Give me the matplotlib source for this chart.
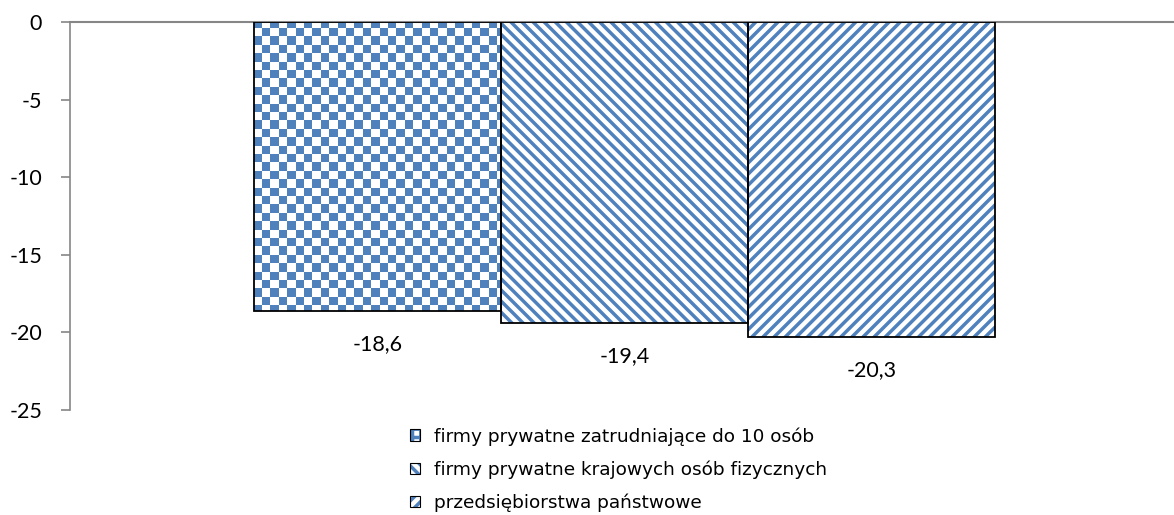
import numpy as np
import matplotlib
matplotlib.use("Agg")
import matplotlib.pyplot as plt
from matplotlib.patches import Patch
from matplotlib.colors import ListedColormap

categories = ["firmy prywatne zatrudniające do 10 osób",
              "firmy prywatne krajowych osób fizycznych",
              "przedsiębiorstwa państwowe"]
values = [-18.6, -19.4, -20.3]
value_labels = ["-18,6", "-19,4", "-20,3"]
yticks = [0, -5, -10, -15, -20, -25]
hatches = [None, "\\\\\\", "///"]

BLUE = "#4F81BD"
GRAY = "#868686"
plt.rcParams["hatch.linewidth"] = 2.5

fig = plt.figure(figsize=(11.74, 5.15), dpi=100)
ax = fig.add_axes([70/1174, 1-410/515, 1-70/1174, (410-22)/515])
ax.set_xlim(-0.5, 0.5)
ax.set_ylim(-25, 0)

w = 0.2237
xs = [(i - 1) * w + 0.0023 for i in range(3)]

bars = []
for x, v, h in zip(xs, values, hatches):
    if h is not None:
        ax.bar(x, v, width=w, color="white", edgecolor=BLUE, linewidth=0, hatch=h, zorder=2)
    b = ax.bar(x, v, width=w, color="none", edgecolor="black", linewidth=1.3, zorder=3)[0]
    bars.append(b)

# checkerboard fill for the first bar, drawn pixel-aligned and clipped to the bar
fig.canvas.draw()
cmap = ListedColormap(["white", BLUE])
inv = ax.transData.inverted()
b = bars[0]
x0, y0 = b.get_x(), b.get_y()
bw, bh = b.get_width(), b.get_height()
p1 = ax.transData.transform((x0, min(y0, y0 + bh)))
p2 = ax.transData.transform((x0 + bw, max(y0, y0 + bh)))
px0 = np.floor(p1[0]) - 1
py0 = np.floor(p1[1]) - 1
wpx = int(np.ceil(p2[0] - px0)) + 2
hpx = int(np.ceil(p2[1] - py0)) + 2
d0 = inv.transform((px0, py0))
d1 = inv.transform((px0 + wpx, py0 + hpx))
rows, cols = np.indices((hpx, wpx))
cell = 8.4
img = (((rows // cell).astype(int) + (cols // cell).astype(int) + 1) % 2).astype(float)
im = ax.imshow(img, cmap=cmap, vmin=0, vmax=1, interpolation="nearest", aspect="auto",
               extent=(d0[0], d1[0], d0[1], d1[1]), origin="upper", zorder=1.5)
im.set_clip_path(b)

ax.set_xlim(-0.5, 0.5)
ax.set_ylim(-25, 0)

for x, v, lab in zip(xs, values, value_labels):
    ax.annotate(lab, (x, v), xytext=(0, -33), textcoords="offset pixels",
                ha="center", va="center", fontsize=15.5, family="Lato", color="black")

for s in ["right", "bottom"]:
    ax.spines[s].set_visible(False)
ax.spines["top"].set_color(GRAY)
ax.spines["top"].set_linewidth(1.5)
ax.spines["left"].set_color(GRAY)
ax.spines["left"].set_linewidth(1.2)
ax.set_xticks([])
ax.set_yticks(yticks)
ax.set_yticklabels([str(t) for t in yticks], family="Lato", fontsize=15.5)
ax.tick_params(axis="y", length=6.5, color=GRAY, width=1.2, pad=13.5)

handles = []
for i in range(3):
    hp = Patch(facecolor="white", edgecolor=BLUE, linewidth=0,
               hatch=["++", "\\\\\\", "///"][i])
    op = Patch(facecolor="none", edgecolor="black", linewidth=0.8)
    handles.append((hp, op))
fig.legend(handles, categories, loc="upper left", bbox_to_anchor=(410/1174, 1-427/515),
           frameon=False, prop={"family": "DejaVu Sans", "size": 13.3},
           handlelength=0.55, handleheight=0.55, handletextpad=0.76, labelspacing=0.8,
           borderpad=0, borderaxespad=0)

fig.savefig("out.png", dpi=100)
